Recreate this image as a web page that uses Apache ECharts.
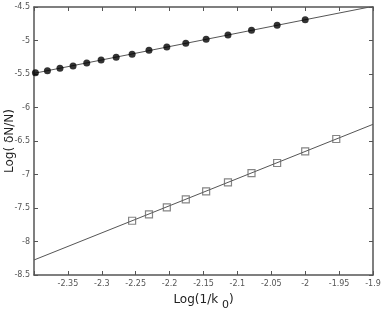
<!DOCTYPE html>
<html>
<head>
<meta charset="utf-8">
<script src="https://cdn.jsdelivr.net/npm/echarts@6/dist/echarts.min.js"></script>
<style>html,body{margin:0;padding:0;background:#fff}#c{width:382px;height:309px}</style>
</head>
<body>
<div id="c"></div>
<script>
// Data
var xTop = [-2.3979, -2.3802, -2.3617, -2.3424, -2.3222, -2.3010, -2.2788, -2.2553, -2.2304, -2.2041, -2.1761, -2.1461, -2.1139, -2.0792, -2.0414, -2.0000];
var yTop = [-5.481, -5.451, -5.415, -5.381, -5.336, -5.291, -5.249, -5.206, -5.146, -5.097, -5.042, -4.982, -4.918, -4.848, -4.773, -4.690];
var xBot = [-2.2553, -2.2304, -2.2041, -2.1761, -2.1461, -2.1139, -2.0792, -2.0414, -2.0000, -1.9542];
var yBot = [-7.690, -7.594, -7.490, -7.370, -7.251, -7.119, -6.978, -6.828, -6.654, -6.470];
var fitTopX = [-2.4, -1.9];
var fitTopY = [-5.49, -4.49];
var fitBotX = [-2.4, -1.9];
var fitBotY = [-8.276, -6.251];
var xName = 'Log(1/k';
var xSub = '0';
var yName = 'Log( \u03b4N/N)';

function zip(a, b) { return a.map(function (v, i) { return [v, b[i]]; }); }

var axisCol = '#555';
var labCol = '#555';
var font = 'DejaVu Sans';

var chart = echarts.init(document.getElementById('c'), null, { renderer: 'canvas' });
chart.setOption({
  animation: false,
  backgroundColor: '#fff',
  grid: { left: 34, right: 9, top: 7, bottom: 34, containLabel: false, outerBoundsMode: 'none' },
  xAxis: [{
    type: 'value', min: -2.4, max: -1.9, interval: 0.05, position: 'bottom',
    axisLine: { show: true, onZero: false, lineStyle: { color: axisCol, width: 1.5 } },
    axisTick: { show: true, inside: true, length: 4, lineStyle: { color: axisCol } },
    splitLine: { show: false },
    axisLabel: {
      color: labCol, fontSize: 8, fontFamily: font, margin: 5,
      formatter: function (v) { var r = Math.round(v * 100) / 100; if (Math.abs(r + 2.4) < 1e-6) return ''; return String(r); }
    },
    name: '{a|' + xName + ' }{s|' + xSub + '}{a|)}',
    nameLocation: 'middle', nameGap: 19, nameMoveOverlap: false,
    nameTextStyle: {
      rich: {
        a: { fontSize: 12, fontFamily: font, color: '#222', verticalAlign: 'top', lineHeight: 14 },
        s: { fontSize: 11, fontFamily: font, color: '#222', padding: [8, 0, 0, 0], lineHeight: 14 }
      }
    }
  }, {
    type: 'value', min: -2.4, max: -1.9, interval: 0.05, position: 'top',
    axisLine: { show: true, onZero: false, lineStyle: { color: axisCol, width: 1.5 } },
    axisTick: { show: true, inside: true, length: 4, lineStyle: { color: axisCol } },
    splitLine: { show: false }, axisLabel: { show: false }
  }],
  yAxis: [{
    type: 'value', min: -8.5, max: -4.5, interval: 0.5, position: 'left',
    axisLine: { show: true, onZero: false, lineStyle: { color: axisCol, width: 1.5 } },
    axisTick: { show: true, inside: true, length: 4, lineStyle: { color: axisCol } },
    splitLine: { show: false },
    axisLabel: { color: labCol, fontSize: 8, fontFamily: font, margin: 4 },
    name: yName, nameLocation: 'middle', nameGap: 18, nameRotate: 90, nameMoveOverlap: false,
    nameTextStyle: { fontSize: 12, fontFamily: font, color: '#222' }
  }, {
    type: 'value', min: -8.5, max: -4.5, interval: 0.5, position: 'right',
    axisLine: { show: true, onZero: false, lineStyle: { color: axisCol, width: 1.5 } },
    axisTick: { show: true, inside: true, length: 4, lineStyle: { color: axisCol } },
    splitLine: { show: false }, axisLabel: { show: false }
  }],
  series: [
    { type: 'line', data: zip(fitTopX, fitTopY), symbol: 'none', clip: true,
      lineStyle: { color: '#555', width: 1 }, silent: true, z: 1 },
    { type: 'line', data: zip(fitBotX, fitBotY), symbol: 'none', clip: true,
      lineStyle: { color: '#555', width: 1 }, silent: true, z: 1 },
    { type: 'scatter', data: zip(xTop, yTop), symbol: 'circle', symbolSize: 7,
      itemStyle: { color: '#000' }, z: 3 },
    { type: 'scatter', data: zip(xBot, yBot), symbol: 'rect', symbolSize: 7,
      itemStyle: { color: 'rgba(0,0,0,0)', borderColor: '#666', borderWidth: 1.2 }, z: 3 }
  ]
});
</script>
</body>
</html>
